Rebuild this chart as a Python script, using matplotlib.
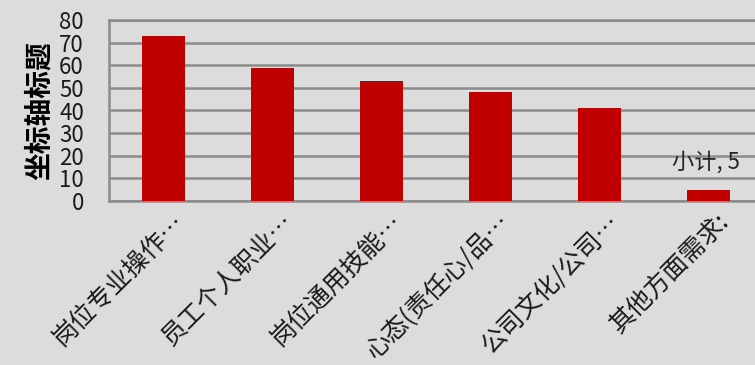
import matplotlib
matplotlib.use("Agg")
import matplotlib.pyplot as plt
import matplotlib.transforms as mtransforms

plt.rcParams['font.family'] = ['Noto Sans CJK SC', 'DejaVu Sans']

categories = ["岗位专业操作…", "员工个人职业…", "岗位通用技能…", "心态(责任心/品…", "公司文化/公司…", "其他方面需求:"]
values = [73, 59, 53, 48, 41, 5]
yticks = [0, 10, 20, 30, 40, 50, 60, 70, 80]
ylabel = "坐标轴标题"
annot = "小计, 5"

bg = "#dcdcdc"
fig = plt.figure(figsize=(7.55, 3.65), dpi=100, facecolor=bg)
ax = fig.add_axes([109/755, 1-201/365, (763-109)/755, (201-20)/365])
ax.set_facecolor("none")

x = list(range(len(categories)))
ax.bar(x, values, width=0.4, color="#c00000", zorder=3)
ax.set_xlim(-0.5, len(categories)-0.5)
ax.set_ylim(0, 80)
ax.set_yticks(yticks)
ax.set_yticklabels([str(v) for v in yticks], fontsize=16, color="#1a1a1a")
ax.yaxis.grid(True, color="#8c8c8c", linewidth=1.8, zorder=0)
ax.set_axisbelow(True)
for s in ax.spines.values():
    s.set_color("#8c8c8c")
    s.set_linewidth(1.8)
ax.tick_params(axis='both', length=0)
ax.tick_params(axis='y', pad=18)

ax.set_xticks(x)
ax.set_xticklabels(categories, rotation=45, ha='right', va='center', rotation_mode='anchor',
                   fontsize=18, color="#1a1a1a", fontweight='light')
offset = mtransforms.ScaledTranslation(17/100, -12/100, fig.dpi_scale_trans)
for lab in ax.get_xticklabels():
    lab.set_transform(lab.get_transform() + offset)

ax.set_ylabel(ylabel, fontsize=20, fontweight='bold', labelpad=4)
ax.annotate(annot, xy=(x[-1], values[-1]), xytext=(-2, 20), textcoords='offset points',
            ha='center', va='center', fontsize=16, color="#262626")

fig.savefig("out.png", dpi=100, facecolor=bg)
